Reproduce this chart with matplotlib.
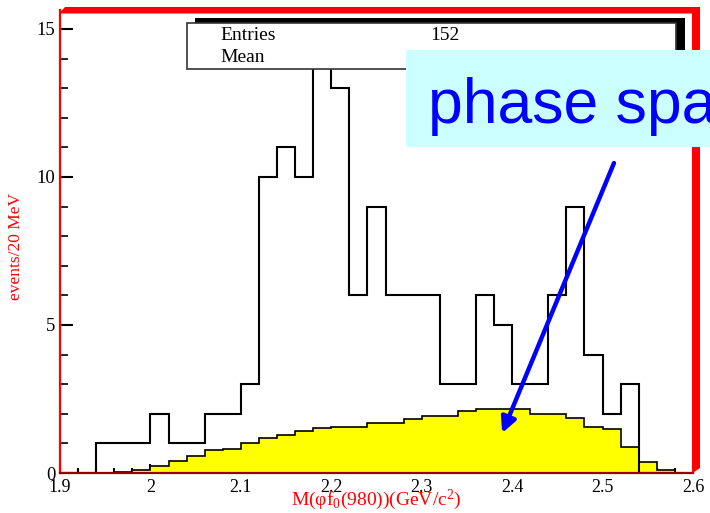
import numpy as np
import matplotlib
matplotlib.use("Agg")
import matplotlib.pyplot as plt
from matplotlib.patches import Rectangle, Polygon
from matplotlib.ticker import MultipleLocator

plt.rcParams['mathtext.fontset'] = 'custom'
plt.rcParams['mathtext.rm'] = 'Liberation Serif'
plt.rcParams['mathtext.it'] = 'Liberation Serif:italic'
plt.rcParams['mathtext.bf'] = 'Liberation Serif:bold'

# ---- data -------------------------------------------------------------
bin_edges = np.round(np.arange(1.90, 2.6001, 0.02), 2)
data_counts = [0, 0, 1, 1, 1, 2, 1, 1, 2, 2,
               3, 10, 11, 10, 14, 13, 6, 9, 6, 6,
               6, 3, 3, 6, 5, 3, 3, 6, 9, 4,
               2, 3, 0, 0, 0]
phase_space = [0.0, 0.0, 0.0, 0.03, 0.1, 0.24, 0.41, 0.58, 0.77, 0.80,
               1.0, 1.19, 1.28, 1.42, 1.52, 1.54, 1.56, 1.70, 1.70, 1.81,
               1.94, 1.94, 2.09, 2.17, 2.17, 2.15, 2.0, 1.98, 1.85, 1.56,
               1.50, 0.88, 0.37, 0.10, 0.0]
x_ticks = [1.9, 2.0, 2.1, 2.2, 2.3, 2.4, 2.5, 2.6]
x_tick_labels = ["1.9", "2", "2.1", "2.2", "2.3", "2.4", "2.5", "2.6"]
y_ticks = [0, 5, 10, 15]
entries = 152

W, H = 710, 513
fig = plt.figure(figsize=(W / 100, H / 100), dpi=100)
serif = 'Liberation Serif'

ax = fig.add_axes([60 / W, (H - 473) / H, (693 - 60) / W, (473 - 10) / H])
ax.set_xlim(1.9, 2.6)
ax.set_ylim(0, 15.64)

ax.stairs(phase_space, bin_edges, fill=True, color='#ffff00', zorder=2)
ax.stairs(phase_space, bin_edges, color='black', lw=1.2, zorder=3)
ax.stairs(data_counts, bin_edges, color='black', lw=1.5, zorder=4)

for s in ['top', 'right']:
    ax.spines[s].set_visible(False)
ax.spines['left'].set_color('red')
ax.spines['left'].set_linewidth(1.6)
ax.spines['bottom'].set_color('#990000')
ax.spines['bottom'].set_linewidth(1.6)
ax.spines['bottom'].set_zorder(5)

ax.set_xticks(x_ticks)
ax.set_xticklabels(x_tick_labels, fontfamily=serif, fontsize=13)
ax.set_yticks(y_ticks)
ax.set_yticklabels([str(v) for v in y_ticks], fontfamily=serif, fontsize=13.5)
ax.xaxis.set_minor_locator(MultipleLocator(0.02))
ax.yaxis.set_minor_locator(MultipleLocator(1))
ax.tick_params(axis='x', which='major', direction='in', length=6.5, width=1.5, pad=4, top=False)
ax.tick_params(axis='x', which='minor', direction='in', length=3.6, width=1.5, top=False)
ax.tick_params(axis='y', which='major', direction='in', length=9.4, width=1.5, pad=3.5, right=False)
ax.tick_params(axis='y', which='minor', direction='in', length=5.8, width=1.2, right=False)

fig.text(16 / W, 1 - 246 / H, 'events/20 MeV', rotation=90, color='red',
         fontfamily=serif, fontsize=12.5, ha='center', va='center')
fig.text(376 / W, 1 - 512.5 / H, r'M(φf$_0$(980))(GeV/c$^2$)', color='red',
         fontfamily=serif, fontsize=14, ha='center', va='bottom')

# arrow pointing into phase-space histogram
ax.annotate('', xy=(2.389, 1.35), xytext=(2.5126, 10.47),
            arrowprops=dict(arrowstyle='-|>,head_length=0.9,head_width=0.45',
                            color='#0000ff', lw=3.2, shrinkA=0, shrinkB=0),
            zorder=8, annotation_clip=False)

# ---- overlay in pixel coordinates -------------------------------------
ov = fig.add_axes([0, 0, 1, 1], zorder=10)
ov.set_xlim(0, W)
ov.set_ylim(H, 0)
ov.axis('off')

# red frame (top and right)
ov.add_patch(Polygon([(59, 13.5), (65, 7), (700, 7), (700, 13.5)], closed=True,
                     color='red', lw=0))
ov.add_patch(Polygon([(692, 13), (700, 7), (700, 468), (692, 473.5)], closed=True,
                     color='red', lw=0))

# stats box with shadow
ov.add_patch(Rectangle((195, 18), 490, 46, color='black', lw=0))
ov.add_patch(Rectangle((187, 23), 489, 46, facecolor='white', edgecolor='#333333', lw=1.2))
ov.text(220, 36, 'Entries', fontfamily=serif, fontsize=14, va='center', ha='left')
ov.text(220, 58, 'Mean', fontfamily=serif, fontsize=14, va='center', ha='left')
ov.text(430, 36, str(entries), fontfamily=serif, fontsize=14, va='center', ha='left')

# phase space label box
ov.add_patch(Rectangle((406, 50), 320, 97, color='#ccffff', lw=0))
t = ov.text(428, 123, 'phase space', fontfamily='Liberation Sans', fontsize=45,
            color='#0000ff', va='baseline', ha='left', clip_on=True)

fig.savefig('out.png', dpi=100)
